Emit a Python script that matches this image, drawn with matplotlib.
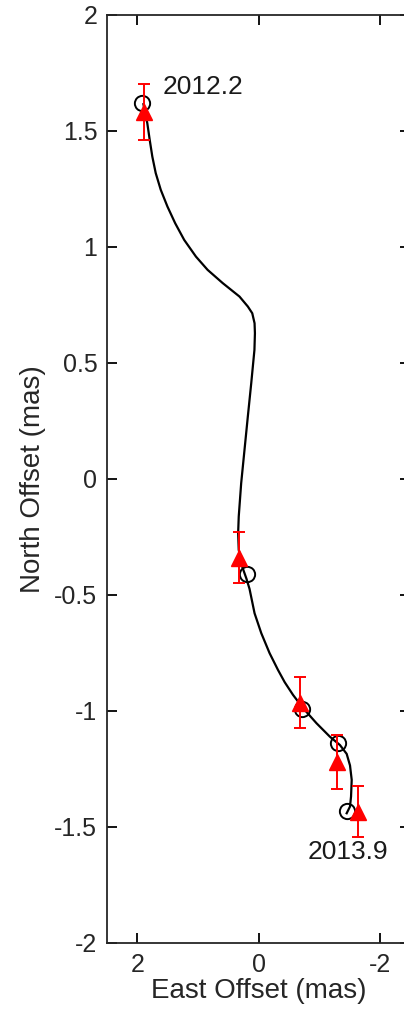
import matplotlib
matplotlib.use("Agg")
import matplotlib.pyplot as plt

plt.rcParams['font.family'] = ['Liberation Sans', 'DejaVu Sans']

# Orbit model curve (East, North offsets in mas)
orbit_east = [1.90, 1.836, 1.796, 1.753, 1.697, 1.614, 1.504, 1.376, 1.227, 1.033,
              0.841, 0.592, 0.315, 0.177, 0.104, 0.066, 0.060, 0.068, 0.121, 0.177,
              0.232, 0.287, 0.327, 0.337, 0.327, 0.270, 0.200, 0.149, 0.066, -0.045,
              -0.182, -0.320, -0.431, -0.569, -0.735, -0.956, -1.177, -1.343, -1.454,
              -1.509, -1.537, -1.526, -1.509, -1.454]
orbit_north = [1.615, 1.533, 1.461, 1.389, 1.318, 1.246, 1.174, 1.102, 1.030, 0.958,
               0.901, 0.844, 0.786, 0.743, 0.714, 0.671, 0.628, 0.556, 0.412, 0.269,
               0.125, -0.019, -0.162, -0.234, -0.306, -0.378, -0.430, -0.474, -0.579,
               -0.665, -0.751, -0.823, -0.876, -0.931, -0.988, -1.053, -1.111, -1.147,
               -1.185, -1.235, -1.297, -1.369, -1.412, -1.441]

# Model positions at the observation epochs
model_east = [1.92, 0.19, -0.72, -1.31, -1.46]
model_north = [1.62, -0.41, -0.99, -1.14, -1.43]

# Observed positions with errors
obs_east = [1.89, 0.33, -0.68, -1.29, -1.64]
obs_north = [1.58, -0.34, -0.965, -1.22, -1.435]
obs_err = [0.12, 0.11, 0.11, 0.115, 0.11]

labels = ["2012.2", "2013.9"]

fig = plt.figure(figsize=(4.04, 10.11), dpi=100)
ax = fig.add_axes([0.265, 0.0673, 0.75, 0.918])

ax.plot(orbit_east, orbit_north, color='black', lw=1.6, solid_joinstyle='round')
ax.plot(model_east, model_north, 'o', mfc='none', mec='black', ms=11, mew=1.4)
ax.errorbar(obs_east, obs_north, yerr=obs_err, fmt='^', color='red',
            mfc='red', mec='red', ms=12, capsize=4, elinewidth=1.4, capthick=1.4)

ax.text(1.59, 1.69, labels[0], fontsize=19, ha='left', va='center', color='#1a1a1a')
ax.text(-1.48, -1.61, labels[1], fontsize=19, ha='center', va='center', color='#1a1a1a')

ax.set_xlim(2.5, -2.5)
ax.set_ylim(-2, 2)
ax.set_xticks([2, 0, -2])
ax.set_yticks([-2, -1.5, -1, -0.5, 0, 0.5, 1, 1.5, 2])
ax.set_yticklabels(['-2', '-1.5', '-1', '-0.5', '0', '0.5', '1', '1.5', '2'])
ax.set_xticklabels(['2', '0', '-2'])
ax.tick_params(direction='in', length=7, width=1.3, top=True, right=True,
               labelsize=18, labelcolor='#262626')
ax.tick_params(axis='x', pad=7)
ax.tick_params(axis='y', pad=7)
for s in ax.spines.values():
    s.set_linewidth(1.3)
    s.set_color('#262626')

ax.set_xlabel("East Offset (mas)", fontsize=20, color='#262626', labelpad=1)
ax.set_ylabel("North Offset (mas)", fontsize=20, color='#262626', labelpad=6)

fig.savefig("out.png", dpi=100)
